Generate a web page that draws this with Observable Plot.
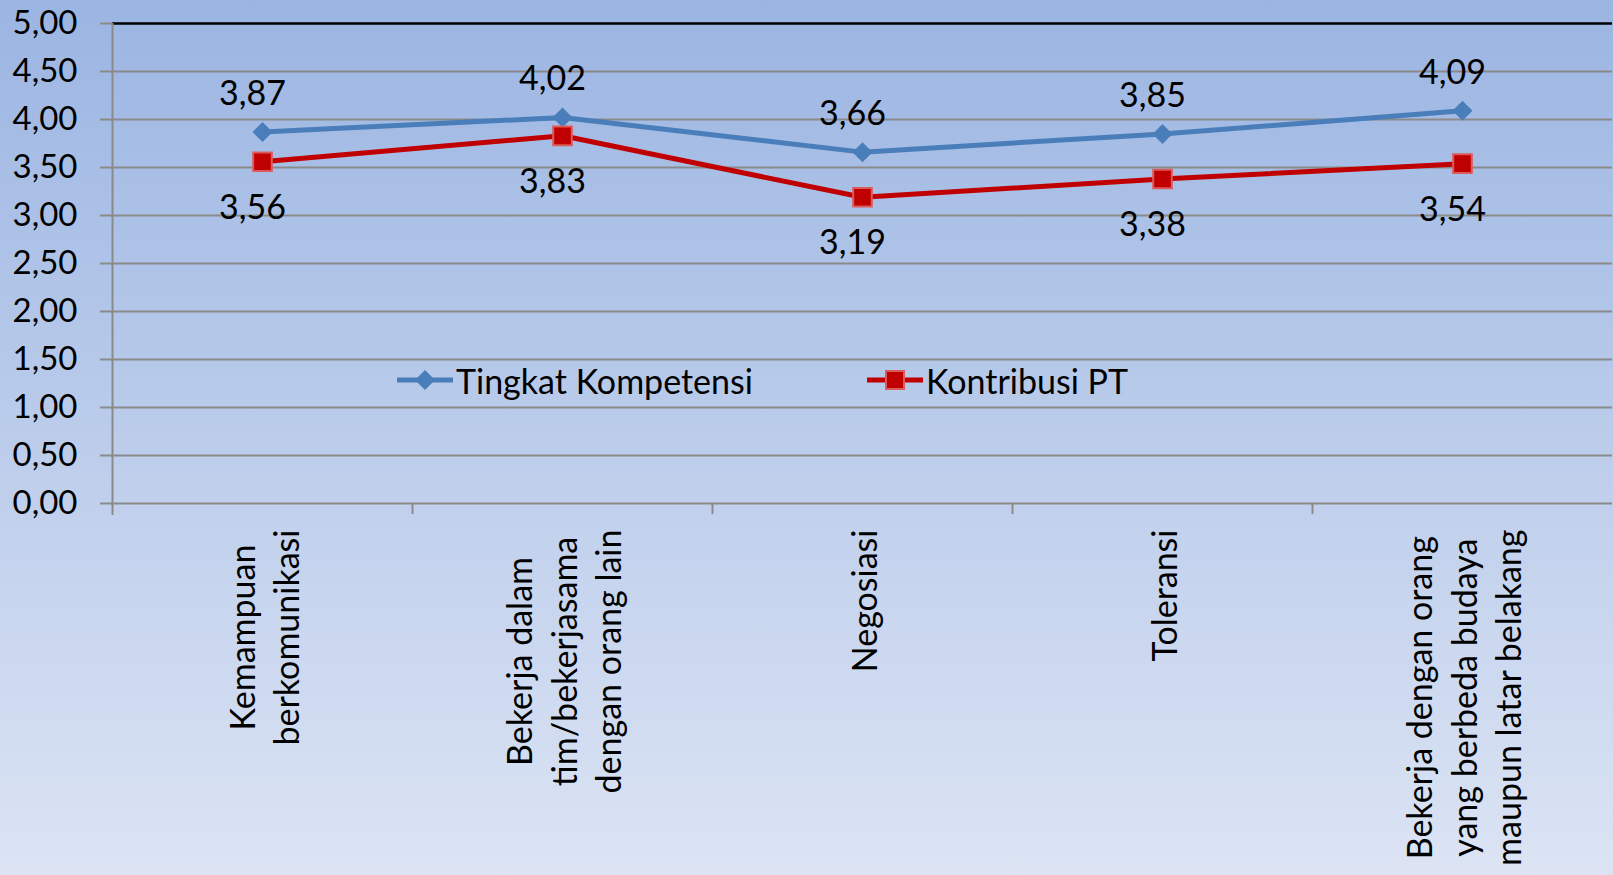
<!DOCTYPE html>
<html>
<head>
<meta charset="utf-8">
<script src="https://cdn.jsdelivr.net/npm/d3@7"></script>
<script src="https://cdn.jsdelivr.net/npm/@observablehq/plot@0.6"></script>
<style>
  body { margin: 0; }
  #wrap {
    position: relative; width: 1613px; height: 875px; overflow: hidden;
    background: linear-gradient(to bottom, #9bb5e2 0%, #dce4f4 100%);
    font-family: Lato, "Open Sans", sans-serif;
  }
  #wrap svg.chart { position: absolute; left: 0; top: 0; }
  .leg { position: absolute; top: 360px; height: 40px; display: flex; align-items: center;
         font-size: 34px; color: #000; font-family: Lato, "Open Sans", sans-serif; }
  .leg svg { margin-right: 3px; }
</style>
</head>
<body>
<div id="wrap"></div>
<script>
// ---- data ----
const categories = [
  "Kemampuan\nberkomunikasi",
  "Bekerja dalam\ntim/bekerjasama\ndengan orang lain",
  "Negosiasi",
  "Toleransi",
  "Bekerja dengan orang\nyang berbeda budaya\nmaupun latar belakang"
];
const tingkatKompetensi = [3.87, 4.02, 3.66, 3.85, 4.09];
const kontribusiPT = [3.56, 3.83, 3.19, 3.38, 3.54];
const seriesNames = ["Tingkat Kompetensi", "Kontribusi PT"];
const yTicks = [0, 0.5, 1, 1.5, 2, 2.5, 3, 3.5, 4, 4.5, 5];

const blueColor = "#4a7ebb";
const redColor = "#c00000";
const gridColor = "#8a8a8a";
const fmt = v => v.toFixed(2).replace(".", ",");

const blueData = categories.map((c, i) => ({category: c, value: tingkatKompetensi[i]}));
const redData = categories.map((c, i) => ({category: c, value: kontribusiPT[i]}));

const chart = Plot.plot({
  width: 1613,
  height: 875,
  marginLeft: 112,
  marginRight: 1,
  marginTop: 23,
  marginBottom: 372,
  x: {type: "point", domain: categories, padding: 0.5, label: null},
  y: {domain: [0, 5], label: null},
  style: {background: "transparent", fontFamily: "Lato, 'Open Sans', sans-serif", fontSize: "34px", color: "#000"},
  marks: [
    Plot.gridY(yTicks.filter(t => t < 5), {stroke: gridColor, strokeOpacity: 1, strokeWidth: 2}),
    Plot.ruleY([5], {stroke: "#000", strokeWidth: 2.5}),
    Plot.axisY(yTicks, {tickSize: 12, tickPadding: 23, stroke: gridColor, strokeWidth: 2, tickFormat: fmt, fontSize: 33, label: null}),
    Plot.ruleX([categories[0]], {y1: 5, y2: 0, dx: -150, insetBottom: -12, stroke: gridColor, strokeWidth: 2}),
    Plot.ruleX(categories.slice(1), {y1: 0, y2: 0, dx: -150, insetBottom: -11, stroke: gridColor, strokeWidth: 2}),
    Plot.line(blueData, {x: "category", y: "value", stroke: blueColor, strokeWidth: 5}),
    Plot.dot(blueData, {x: "category", y: "value", symbol: "diamond2", r: 9, fill: blueColor}),
    Plot.line(redData, {x: "category", y: "value", stroke: redColor, strokeWidth: 5}),
    Plot.dot(redData, {x: "category", y: "value", symbol: "square", r: 10.5, fill: redColor, stroke: "#dd5a5a", strokeWidth: 2}),
    Plot.text(blueData, {x: "category", y: "value", text: d => fmt(d.value), dy: -38, dx: -10, fontSize: 34, fill: "#000"}),
    Plot.text(redData, {x: "category", y: "value", text: d => fmt(d.value), dy: 46, dx: -10, fontSize: 34, fill: "#000"}),
    Plot.axisX({tickSize: 0, tickPadding: 26, tickRotate: -90, fontSize: 34, lineHeight: 1.3, label: null})
  ]
});
chart.classList.add("chart");
const wrap = document.getElementById("wrap");
wrap.appendChild(chart);

// center each line of multi-line rotated category labels within its block (top aligned)
chart.querySelectorAll('g[aria-label="x-axis tick label"] text').forEach(t => {
  const spans = t.querySelectorAll("tspan");
  if (spans.length < 2) return;
  const max = Math.max(...Array.from(spans, s => s.getComputedTextLength()));
  t.setAttribute("text-anchor", "middle");
  spans.forEach(s => s.setAttribute("x", -max / 2));
});

// legend
const legendItems = [
  {name: seriesNames[0], color: blueColor, shape: "diamond", left: 397},
  {name: seriesNames[1], color: redColor, shape: "square", left: 867}
];
legendItems.forEach(item => {
  const div = document.createElement("div");
  div.className = "leg";
  div.style.left = item.left + "px";
  const marker = item.shape === "diamond"
    ? `<path d="M28 2 L38 12 L28 22 L18 12 Z" fill="${item.color}"/>`
    : `<rect x="19" y="3" width="18" height="18" fill="${item.color}" stroke="#dd5a5a" stroke-width="2"/>`;
  div.innerHTML = `<svg width="56" height="24"><line x1="0" y1="12" x2="56" y2="12" stroke="${item.color}" stroke-width="5"/>${marker}</svg><span>${item.name}</span>`;
  wrap.appendChild(div);
});
</script>
</body>
</html>
